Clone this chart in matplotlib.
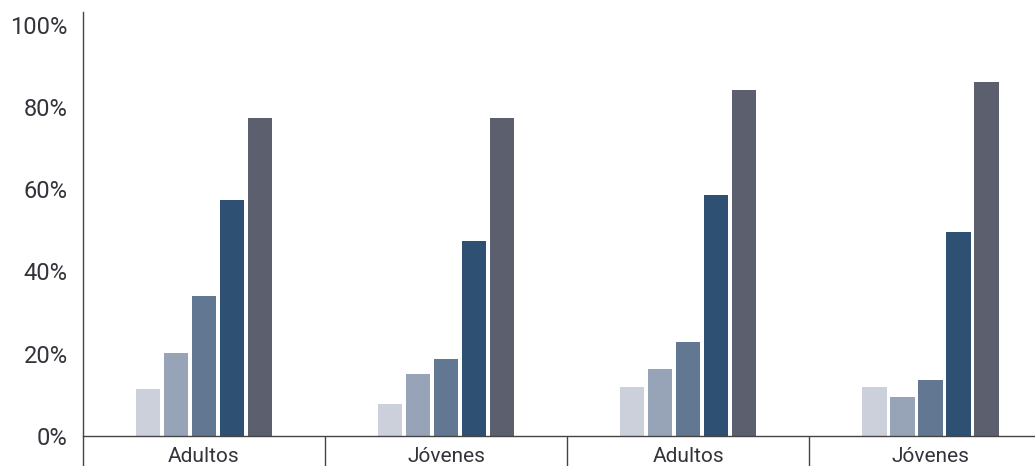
import matplotlib.pyplot as plt
import numpy as np

# Data
groups = ['Adultos', 'Jóvenes', 'Adultos', 'Jóvenes']
serie_1 = [11.4, 7.8, 11.9, 11.9]
serie_2 = [20.2, 15.1, 16.3, 9.5]
serie_3 = [34.1, 18.7, 22.9, 13.6]
serie_4 = [57.4, 47.4, 58.6, 49.6]
serie_5 = [77.4, 77.4, 84.2, 86.1]
yticks = [0, 20, 40, 60, 80, 100]

series = [serie_1, serie_2, serie_3, serie_4, serie_5]
colors = ['#cbd0da', '#97a3b6', '#627792', '#2e5072', '#5c5f6e']

plt.rcParams['font.family'] = ['Roboto', 'DejaVu Sans']
text_color = '#33333b'

fig = plt.figure(figsize=(10.35, 4.66), dpi=100)
ax = fig.add_axes([0.0802, 0.0644, 0.9353, 0.909])

x = np.arange(len(groups))
step = 0.1157
width = 0.103
for i, (vals, col) in enumerate(zip(series, colors)):
    ax.bar(x + (i - 2) * step, vals, width=width, color=col, zorder=2)

ax.set_xlim(-0.5, len(groups) - 0.5)
ax.set_ylim(0, 103)

ax.set_yticks(yticks)
ax.set_yticklabels([f'{v}%' for v in yticks], fontsize=17, color=text_color)
ax.tick_params(axis='y', length=0, pad=11)

ax.set_xticks(x)
ax.set_xticklabels(groups, fontsize=15, color=text_color)
ax.tick_params(axis='x', which='major', length=0, pad=8)
ax.set_xticks(np.arange(len(groups) + 1) - 0.5, minor=True)
ax.tick_params(axis='x', which='minor', length=23, width=1, color='#444444',
               direction='out')

for side in ['top', 'right']:
    ax.spines[side].set_visible(False)
for side in ['left', 'bottom']:
    ax.spines[side].set_color('#444444')
    ax.spines[side].set_linewidth(1)

plt.savefig('out.png', dpi=100)
